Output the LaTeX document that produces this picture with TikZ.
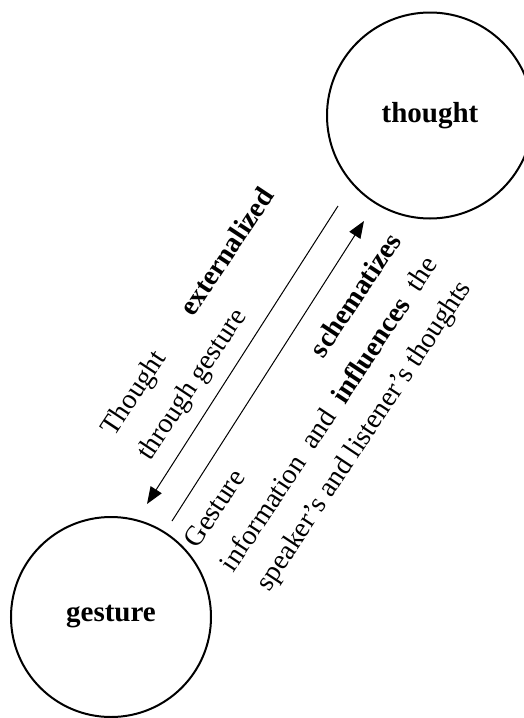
\documentclass[tikz,border=0pt]{standalone}
\usepackage{fontspec}
\setmainfont{Liberation Serif}
\usetikzlibrary{arrows.meta}
\begin{document}
\begin{tikzpicture}[x=1pt,y=-1pt,
  concept/.style={circle, draw, line width=2pt, inner sep=0pt,
    font=\fontsize{29}{34}\selectfont\bfseries},
  link/.style={line width=1pt, -{Triangle[length=17pt,width=13pt]}},
  caption/.style={rotate=56.5, inner sep=0pt, font=\fontsize{28}{34}\selectfont}]
\useasboundingbox (0,0) rectangle (523,718);

% the two concepts
\node[concept, minimum size=206pt] (thought) at (430,115.5) {thought};
\node[concept, minimum size=200pt] (gesture) at (111,617) {gesture};

% end points of the two parallel arrows
\coordinate (down-start) at (338,206);
\coordinate (down-end)   at (147,504);
\coordinate (up-start)   at (172,521);
\coordinate (up-end)     at (364,221);
\draw[link] (down-start) -- (down-end);
\draw[link] (up-start) -- (up-end);

% label above the downward arrow
\node[caption] (ext1) at (189,313) {\hbox to 290pt{Thought\hfill\textbf{externalized}}};
\node[caption] (ext2) at (193,385) {through gesture};

% label below the upward arrow
\node[caption] (sch1) at (292,390) {\hbox to 370pt{Gesture\hfill\textbf{schematizes}}};
\node[caption] (sch2) at (328,413.5) {\hbox to 370pt{information\hfill and\hfill \textbf{influences}\hfill the}};
\node[caption] (sch3) at (365,436.5) {speaker’s and listener’s thoughts};
\end{tikzpicture}
\end{document}
